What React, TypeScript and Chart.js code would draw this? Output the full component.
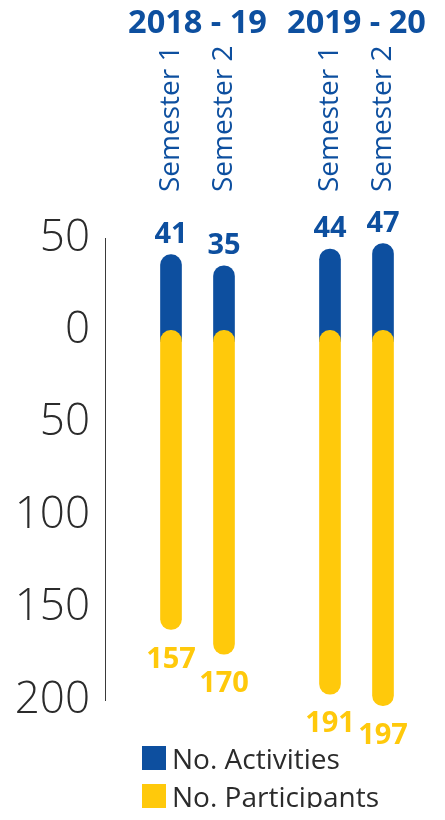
import React, { useEffect, useRef } from 'react';
import { Chart, registerables } from 'chart.js';

Chart.register(...registerables);

const years = ['2018 - 19', '2019 - 20'];
const semesters = ['Semester 1', 'Semester 2'];
const activities = [41, 35, 44, 47];
const participants = [157, 170, 191, 197];
const seriesNames = ['No. Activities', 'No. Participants'];

const BLUE = '#0d4f9f';
const YELLOW = '#ffc90b';
const INK = '#2b2b2b';
const FONT = '"Open Sans", "Noto Sans", sans-serif';

// Bar slots: the semesters of each year, with an empty slot between the years.
const categories: string[] = [];
const activitySeries: (number | null)[] = [];
const participantSeries: (number | null)[] = [];
years.forEach((_, yi) => {
  if (yi > 0) {
    categories.push('');
    activitySeries.push(null);
    participantSeries.push(null);
  }
  semesters.forEach((s, si) => {
    const k = yi * semesters.length + si;
    categories.push(s);
    activitySeries.push(activities[k]);
    participantSeries.push(participants[k]);
  });
});

// Year captions sit on the boundary between their two semester slots.
const yearCaptions: string[] = new Array(categories.length + 1).fill('');
years.forEach((y, yi) => {
  yearCaptions[yi * (semesters.length + 1) + 1] = y;
});

const valueLabels = {
  id: 'valueLabels',
  afterDatasetsDraw(chart: any) {
    const ctx = chart.ctx;
    ctx.save();
    ctx.font = `700 29px ${FONT}`;
    ctx.textAlign = 'center';
    ctx.textBaseline = 'alphabetic';
    chart.data.datasets.forEach((ds: any, di: number) => {
      const meta = chart.getDatasetMeta(di);
      meta.data.forEach((bar: any, i: number) => {
        const v = ds.data[i];
        if (v == null) return;
        ctx.fillStyle = ds.backgroundColor;
        const above = ds.yAxisID === 'y';
        ctx.fillText(String(v), bar.x, above ? bar.y - 12 : bar.y + 38);
      });
    });
    ctx.restore();
  },
};

const noSidePadding = (s: any) => {
  s.paddingLeft = 0;
  s.paddingRight = 0;
};

function ActivityChart() {
  const ref = useRef<HTMLCanvasElement | null>(null);

  useEffect(() => {
    if (!ref.current) return;
    const chart = new Chart(ref.current, {
      type: 'bar',
      data: {
        labels: categories,
        datasets: [
          {
            label: seriesNames[0],
            data: activitySeries,
            backgroundColor: BLUE,
            yAxisID: 'y',
            base: -6,
            borderSkipped: 'start',
            borderRadius: 11,
            barThickness: 21,
            grouped: false,
            order: 2,
          },
          {
            label: seriesNames[1],
            data: participantSeries,
            backgroundColor: YELLOW,
            yAxisID: 'yP',
            borderSkipped: false,
            borderRadius: 11,
            barThickness: 21,
            grouped: false,
            order: 1,
            clip: false,
          },
        ],
      } as any,
      options: {
        animation: false,
        responsive: true,
        maintainAspectRatio: false,
        layout: { padding: { top: 0, right: 27.5, bottom: 50, left: 0 } },
        plugins: { legend: { display: false }, tooltip: { enabled: false } },
        scales: {
          x: {
            type: 'category',
            position: 'top',
            offset: true,
            weight: 0,
            grid: { display: false, drawTicks: false },
            border: { display: false },
            ticks: {
              autoSkip: false,
              minRotation: 90,
              maxRotation: 90,
              padding: 46,
              labelOffset: 34,
              color: BLUE,
              font: { family: FONT, size: 28, weight: '400' },
            },
            afterFit: (s: any) => {
              s.height = 195;
              noSidePadding(s);
            },
          },
          xYear: {
            type: 'category',
            position: 'top',
            labels: yearCaptions,
            offset: false,
            weight: 10,
            grid: { display: false, drawTicks: false },
            border: { display: false },
            ticks: {
              autoSkip: false,
              minRotation: 0,
              maxRotation: 0,
              padding: 0,
              color: BLUE,
              font: { family: FONT, size: 32.5, weight: '700' },
            },
            afterFit: (s: any) => {
              s.height = 35;
              noSidePadding(s);
            },
          },
          y: {
            position: 'left',
            min: -200,
            max: 50,
            grid: { display: false, drawTicks: false },
            border: { display: false },
            ticks: {
              stepSize: 50,
              padding: 54.5,
              color: INK,
              font: { family: FONT, size: 44, weight: '300' },
              callback: (v: any) => String(Math.abs(Number(v))),
            },
            afterFit: (s: any) => {
              s.width = 136.5;
              s.paddingTop = 0;
              s.paddingBottom = 0;
            },
          },
          // participants hang down from the zero line on their own scale
          yP: {
            display: false,
            reverse: true,
            min: -48.5,
            max: 194,
          },
          // vertical axis rule left of the bars
          yLine: {
            position: { x: -1.245 },
            min: 0,
            max: 1,
            ticks: { display: false },
            grid: { drawOnChartArea: false, drawTicks: false },
            border: { display: true, color: '#3a3a3a', width: 1 },
            afterFit: (s: any) => {
              s.paddingTop = 0;
              s.paddingBottom = 0;
            },
          },
        },
      } as any,
      plugins: [valueLabels],
    });
    return () => chart.destroy();
  }, []);

  return (
    <div style={{ position: 'absolute', left: 0, top: 0, width: 429, height: 742 }}>
      <canvas ref={ref} />
    </div>
  );
}

function Legend() {
  const colors = [BLUE, YELLOW];
  return (
    <div style={{ position: 'absolute', left: 134, top: 738, width: 290 }}>
      {seriesNames.map((name, i) => (
        <div
          key={name}
          style={{
            position: 'relative',
            height: 24,
            marginTop: i === 0 ? 0 : 14,
          }}
        >
          <span
            style={{
              position: 'absolute',
              left: 0,
              top: 0,
              width: 24,
              height: 24,
              background: colors[i],
            }}
          />
          <span
            style={{
              position: 'absolute',
              left: 30,
              top: -7,
              fontFamily: FONT,
              fontSize: 28,
              color: INK,
              whiteSpace: 'nowrap',
              lineHeight: '38px',
            }}
          >
            {name}
          </span>
        </div>
      ))}
    </div>
  );
}

export default function App() {
  return (
    <div style={{ position: 'relative', width: 429, height: 800 }}>
      <ActivityChart />
      <Legend />
    </div>
  );
}
